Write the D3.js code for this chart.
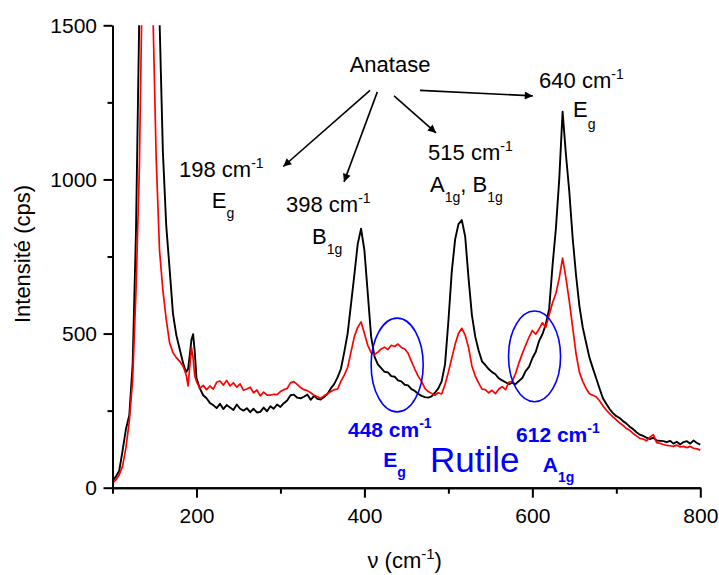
<!DOCTYPE html>
<html><head><meta charset="utf-8">
<script src="https://cdn.jsdelivr.net/npm/d3@7"></script>
<style>body{margin:0;background:#fff} text{font-family:"Liberation Sans",Arial,sans-serif}</style>
</head><body><svg id="c" width="719" height="575"></svg>
<script>
const wavenumber = [
100,104,108,112,116,120,124,128,132,136,
140,144,148,152,156,160,164,168,172,176,
180,184,186,188,190,192,194,196,198,200,204,208,212,216,
220,224,228,232,236,240,244,248,252,256,
260,264,268,272,276,280,284,288,292,296,
300,304,308,312,316,320,324,328,332,336,
340,344,348,352,356,360,364,368,372,376,
380,384,388,392,396,400,404,408,412,416,
420,424,428,432,436,440,444,448,452,456,
460,464,468,472,476,480,484,488,492,496,
500,504,508,512,516,520,524,528,532,536,
540,544,548,552,556,560,564,568,572,576,
580,584,588,592,596,600,604,608,612,616,
620,624,628,632,636,640,644,648,652,656,
660,664,668,672,676,680,684,688,692,696,
700,704,708,712,716,720,724,728,732,736,
740,744,748,752,756,760,764,768,772,776,
780,784,788,792,796,800];
const spectrumBlack = [
22,36,55,120,190,235,400,835,1550,2500,
3000,3500,3000,2400,1520,1090,850,710,565,495,
450,405,388,376,385,430,480,498,440,356,322,300,290,275,
268,258,272,255,268,260,252,270,256,250,
258,245,256,244,246,260,248,264,256,270,
262,274,283,300,302,292,290,295,302,285,
298,288,286,294,304,322,336,358,385,440,
500,595,690,790,840,770,630,490,425,400,
388,376,374,362,360,348,345,334,332,320,
314,305,298,294,292,296,308,322,345,400,
540,700,805,855,868,815,680,560,490,445,
410,398,385,375,368,355,348,342,336,340,
336,346,356,378,392,420,440,476,498,530,
580,720,840,1000,1220,1080,960,810,690,590,
520,470,422,388,355,322,290,272,255,242,
232,226,216,208,198,190,180,172,168,162,
158,162,153,152,151,148,152,143,149,140,
148,151,143,153,145,140];
const spectrumRed = [
15,25,42,70,130,215,350,640,1040,1750,
2400,2600,1560,1070,770,640,545,470,438,422,
410,394,380,362,330,392,455,420,362,345,322,332,318,330,
320,342,346,333,348,330,340,326,337,316,
320,326,308,317,298,310,300,300,303,302,
312,318,322,340,344,335,325,318,315,308,
300,295,290,298,305,312,318,320,345,365,
390,440,490,520,538,500,462,438,432,440,
450,456,448,462,458,466,455,450,436,410,
385,362,345,322,312,306,300,308,304,335,
375,420,465,500,517,495,455,395,362,340,
320,318,308,316,305,320,328,318,342,345,
370,405,435,462,488,510,498,515,535,520,
560,600,630,680,745,680,605,520,435,375,
345,322,305,300,295,282,266,252,240,230,
220,210,202,192,186,176,168,160,158,152,
164,172,146,144,140,137,136,134,138,132,
134,130,134,128,126,122];
const yTicksMajor = [0,500,1000,1500];
const yTicksMinor = [250,750,1250];
const xTicksMajor = [200,400,600,800];
const xTicksMinor = [100,300,500,700];

const svg = d3.select("#c");
const x = d3.scaleLinear().domain([100,800]).range([112.5,700.3]);
const y = d3.scaleLinear().domain([0,1500]).range([487.7,25.3]);

svg.append("defs").append("clipPath").attr("id","clip").append("rect")
  .attr("x", x(100)).attr("y", y(1500)).attr("width", x(800)-x(100)+2).attr("height", y(0)-y(1500));
svg.select("defs").append("marker").attr("id","arr").attr("viewBox","0 0 10 10")
  .attr("refX",10).attr("refY",5).attr("markerWidth",11).attr("markerHeight",8)
  .attr("markerUnits","userSpaceOnUse").attr("orient","auto")
  .append("path").attr("d","M0,0L10,5L0,10z").attr("fill","#000");

const line = (arr) => d3.line().x((d,i)=>x(wavenumber[i])).y(d=>y(d))(arr);
const plot = svg.append("g").attr("clip-path","url(#clip)");
plot.append("path").attr("d", line(spectrumBlack)).attr("fill","none").attr("stroke","#000").attr("stroke-width",1.9).attr("stroke-linejoin","round");
plot.append("path").attr("d", line(spectrumRed)).attr("fill","none").attr("stroke","#ff0000").attr("stroke-width",1.7).attr("stroke-linejoin","round");

function styleAxis(g){ g.select(".domain").attr("stroke-width",2); g.selectAll(".tick line").attr("stroke-width",2); g.selectAll("text").attr("font-size",21).attr("font-family","Liberation Sans, Arial, sans-serif").attr("fill","#000"); }
svg.append("g").attr("transform",`translate(${x(100)},0)`)
  .call(d3.axisLeft(y).tickValues(yTicksMajor).tickFormat(d3.format("d")).tickSize(9).tickPadding(6.5).tickSizeOuter(0)).call(styleAxis);
svg.append("g").attr("transform",`translate(${x(100)},0)`)
  .call(d3.axisLeft(y).tickValues(yTicksMinor).tickSize(5).tickFormat("").tickSizeOuter(0)).call(styleAxis);
svg.append("g").attr("transform",`translate(0,${y(0)})`)
  .call(d3.axisBottom(x).tickValues(xTicksMajor).tickFormat(d3.format("d")).tickSize(10).tickPadding(10).tickSizeOuter(0)).call(styleAxis);
svg.append("g").attr("transform",`translate(0,${y(0)})`)
  .call(d3.axisBottom(x).tickValues(xTicksMinor).tickSize(6).tickFormat("").tickSizeOuter(0)).call(styleAxis);

function rich(xd, yd, parts, o){
  const t = svg.append("text").attr("x", x(xd)).attr("y", y(yd)).attr("font-size", o.size)
    .attr("fill", o.color||"#000").attr("font-weight", o.weight||"normal").attr("text-anchor", o.anchor||"start");
  let shift = 0;
  parts.forEach(p => {
    const target = p[1]==="sup" ? -9 : p[1]==="sub" ? (o.sub||10) : 0;
    const ts = t.append("tspan").text(p[0]).attr("dy", target - shift);
    shift = target;
    if (p[1]) ts.attr("font-size", o.small||14);
  });
  return t;
}

// axis titles
svg.append("text").attr("transform","translate(30,254) rotate(-90)").attr("text-anchor","middle")
  .attr("font-size",22).text("Intensité (cps)");
rich(448, -261, [["ν (cm"],["-1","sup"],[")"]], {size:22, anchor:"middle", small:15});

// anatase annotations
rich(430.5, 1347, [["Anatase"]], {size:22, anchor:"middle"});
const arrows = [[406.7,1289,303.4,1042],[415.4,1284,375.7,992],[435.3,1271,485.3,1151],[466.2,1289,600.5,1271]];
arrows.forEach(a => svg.append("line").attr("x1",x(a[0])).attr("y1",y(a[1])).attr("x2",x(a[2])).attr("y2",y(a[3]))
  .attr("stroke","#000").attr("stroke-width",1.6).attr("marker-end","url(#arr)"));
rich(179.2, 1007, [["198 cm"],["-1","sup"]], {size:22});
rich(218.2, 907, [["E"],["g","sub"]], {size:22});
rich(306.6, 894, [["398 cm"],["-1","sup"]], {size:22});
rich(337.6, 792, [["B"],["1g","sub"]], {size:22});
rich(475.8, 1062, [["515 cm"],["-1","sup"]], {size:22});
rich(478.2, 958, [["A"],["1g","sub"],[", B"],["1g","sub"]], {size:22});
rich(608, 1297, [["640 cm"],["-1","sup"]], {size:22});
rich(648.5, 1203, [["E"],["g","sub"]], {size:22, sub:12});

// rutile annotations
const ellipses = [[439,398,31,152],[602.6,426,31,147]];
ellipses.forEach(e => svg.append("ellipse").attr("cx",x(e[0])).attr("cy",y(e[1]))
  .attr("rx",x(e[0]+e[2])-x(e[0])).attr("ry",y(e[1]-e[3])-y(e[1]))
  .attr("fill","none").attr("stroke","#0000ff").attr("stroke-width",1.6));
const blue = "#0000ff";
rich(380.4, 165, [["448 cm"],["-1","sup"]], {size:21, color:blue, weight:"bold"});
rich(422.5, 67, [["E"],["g","sub"]], {size:21, color:blue, weight:"bold"});
rich(478.2, 52, [["Rutile"]], {size:35, color:blue});
rich(580.6, 149, [["612 cm"],["-1","sup"]], {size:21, color:blue, weight:"bold"});
rich(612.4, 52, [["A"],["1g","sub"]], {size:21, color:blue, weight:"bold"});
</script></body></html>
